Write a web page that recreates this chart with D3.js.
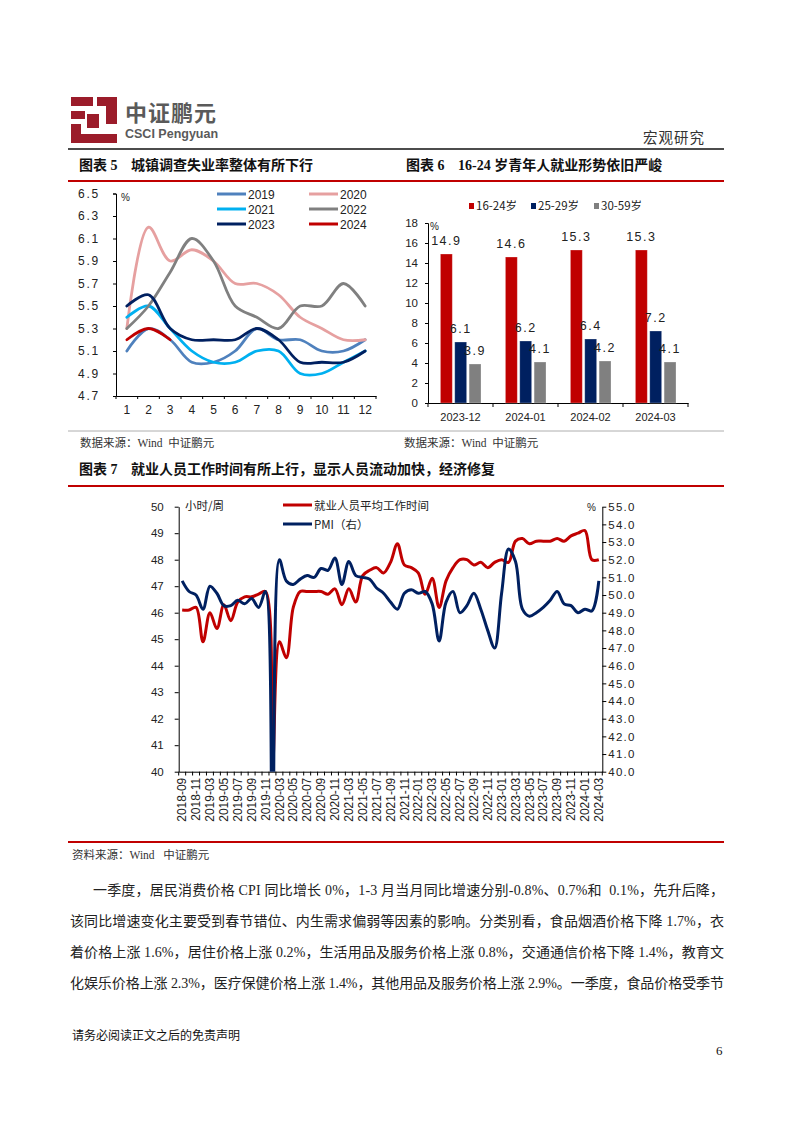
<!DOCTYPE html>
<html><head><meta charset="utf-8">
<script src="https://cdn.jsdelivr.net/npm/d3@7"></script>
<style>body{margin:0;background:#fff} svg{display:block} text{white-space:pre}</style>
</head><body>
<svg id="page" width="794" height="1123"></svg>
<script>
// ---------------- DATA ----------------
// Chart 5: urban surveyed unemployment rate (%), by month
const monthLabels = ["1","2","3","4","5","6","7","8","9","10","11","12"];
const yearNames = ["2019","2020","2021","2022","2023","2024"];
const u2019 = [5.1,5.3,5.2,5.0,5.0,5.1,5.3,5.2,5.2,5.1,5.1,5.2];
const u2020 = [5.3,6.2,5.9,6.0,5.9,5.7,5.7,5.6,5.4,5.3,5.2,5.2];
const u2021 = [5.4,5.5,5.3,5.1,5.0,5.0,5.1,5.1,4.9,4.9,5.0,5.1];
const u2022 = [5.3,5.5,5.8,6.1,5.9,5.5,5.4,5.3,5.5,5.5,5.7,5.5];
const u2023 = [5.5,5.6,5.3,5.2,5.2,5.2,5.3,5.2,5.0,5.0,5.0,5.1];
const u2024 = [5.2,5.3,5.2];
const ticks5 = [4.7,4.9,5.1,5.3,5.5,5.7,5.9,6.1,6.3,6.5];

// Chart 6: youth unemployment by age group (%)
const groups6 = ["2023-12","2024-01","2024-02","2024-03"];
const ageNames = ["16-24岁","25-29岁","30-59岁"];
const age1624 = [14.9,14.6,15.3,15.3];
const age2529 = [6.1,6.2,6.4,7.2];
const age3059 = [3.9,4.1,4.2,4.1];
const ticks6 = [0,2,4,6,8,10,12,14,16,18];

// Chart 7: average weekly working hours (left) and PMI (right)
const dates7 = ["2018-09","2018-10","2018-11","2019-02","2019-03","2019-04","2019-05","2019-06","2019-07","2019-08",
  "2019-09","2019-10","2019-11","2020-02","2020-03","2020-04","2020-05","2020-06","2020-07","2020-08",
  "2020-09","2020-10","2020-11","2021-02","2021-03","2021-04","2021-05","2021-06","2021-07","2021-08",
  "2021-09","2021-10","2021-11","2021-12","2022-01","2022-02","2022-03","2022-04","2022-05","2022-06",
  "2022-07","2022-08","2022-09","2022-10","2022-11","2022-12","2023-01","2023-02","2023-03","2023-04",
  "2023-05","2023-06","2023-07","2023-08","2023-09","2023-10","2023-11","2023-12","2024-01","2024-02","2024-03"];
const workHours = [46.1,46.1,46.2,44.9,46.0,45.4,46.3,45.7,46.4,46.6,
  46.6,46.7,46.8,40.2,44.9,44.3,46.2,46.8,46.8,46.8,
  46.8,46.7,46.9,46.3,46.9,46.4,47.4,47.6,47.7,47.5,
  47.9,48.6,47.8,47.7,47.5,46.7,47.3,46.2,47.2,47.7,
  48.0,48.0,47.8,47.9,47.7,47.9,48.0,47.9,48.7,48.8,
  48.6,48.7,48.7,48.7,48.8,48.7,48.9,49.0,49.1,48.0,48.0];
const pmi = [50.8,50.2,50.0,49.2,50.5,50.1,49.4,49.4,49.7,49.5,
  49.8,49.3,50.2,35.7,52.0,50.8,50.6,50.9,51.1,51.0,
  51.5,51.4,52.1,50.6,51.9,51.1,51.0,50.9,50.4,50.1,
  49.6,49.2,50.1,50.3,50.1,50.2,49.5,47.4,49.6,50.2,
  49.0,49.4,50.1,49.2,48.0,47.0,50.1,52.6,51.9,49.2,
  48.8,49.0,49.3,49.7,50.2,49.5,49.4,49.0,49.2,49.1,50.8];
const ticks7L = [40,41,42,43,44,45,46,47,48,49,50];
const ticks7R = [40,41,42,43,44,45,46,47,48,49,50,51,52,53,54,55];

// ---------------- STYLE ----------------
const SERIF = "'Liberation Serif','Noto Sans CJK SC',serif";
const SANS = "'Liberation Sans','Noto Sans CJK SC',sans-serif";
const CJK = "'Noto Sans CJK SC',sans-serif";
const RED = "#c00000", NAVY = "#002060", GRAY = "#808080";
const colors5 = ["#4f81bd","#e6a0a0","#00b0f0","#808080","#002060","#c00000"];

const svg = d3.select("#page");

// ---------------- HEADER ----------------
const logo = svg.append("g").attr("fill","#9b1c2a");
[[71,97,22,9],[97,97,20,9],[71,111,14,8],[106,104,11,20],[71,124,10,19],[81,134,36,9],[87,114,12,14]]
  .forEach(r=>logo.append("rect").attr("x",r[0]).attr("y",r[1]).attr("width",r[2]).attr("height",r[3]));
svg.append("text").attr("x",125).attr("y",121).attr("font-family",CJK).attr("font-weight","bold")
  .attr("font-size",22).attr("fill","#5a5a5a").attr("letter-spacing",1).text("中证鹏元");
svg.append("text").attr("x",125).attr("y",138).attr("font-family",SANS).attr("font-weight","bold")
  .attr("font-size",12.5).attr("fill","#5a5a5a").text("CSCI Pengyuan");
svg.append("text").attr("x",643).attr("y",143).attr("font-family",CJK).attr("font-size",14.5)
  .attr("fill","#333").attr("letter-spacing",1).text("宏观研究");
svg.append("line").attr("x1",68).attr("x2",724).attr("y1",149).attr("y2",149).attr("stroke","#111").attr("stroke-width",1.3);

function title(x1, x2, y, a, b){
  svg.append("text").attr("x",x1).attr("y",y).attr("font-family",SERIF).attr("font-weight","bold")
    .attr("font-size",14).attr("fill","#111").text(a);
  svg.append("text").attr("x",x2).attr("y",y).attr("font-family",SERIF).attr("font-weight","bold")
    .attr("font-size",14).attr("fill","#111").text(b);
}
title(79,131,170,"图表 5","城镇调查失业率整体有所下行");
title(406,458,170,"图表 6","16-24 岁青年人就业形势依旧严峻");
svg.append("line").attr("x1",68).attr("x2",724).attr("y1",181).attr("y2",181).attr("stroke",RED).attr("stroke-width",2);

// ---------------- CHART 5 ----------------
const x5 = d3.scaleBand().domain(monthLabels).range([116,376]);
const y5 = d3.scaleLinear().domain([4.7,6.5]).range([396,193.5]);
const g5 = svg.append("g");
const ax5y = g5.append("g").attr("transform","translate(116,0)")
  .call(d3.axisLeft(y5).tickValues(ticks5).tickSize(3).tickPadding(13).tickFormat(d3.format(".1f")));
ax5y.select(".domain").attr("stroke","#000");
ax5y.selectAll("text").attr("font-family",SANS).attr("font-size",12).attr("letter-spacing",1.8).attr("fill","#222");
const ax5x = g5.append("g").attr("transform","translate(0,396)")
  .call(d3.axisBottom(x5).tickSize(0).tickPadding(9).tickSizeOuter(0));
ax5x.selectAll("text").attr("font-family",SANS).attr("font-size",12).attr("fill","#222");
g5.selectAll(".btick5").data(monthLabels.concat(["end"])).enter().append("line")
  .attr("x1",(d,i)=> i<12 ? x5(d) : x5.range()[1]).attr("x2",(d,i)=> i<12 ? x5(d) : x5.range()[1])
  .attr("y1",396).attr("y2",399).attr("stroke","#000");
g5.append("text").attr("x",121).attr("y",201).attr("font-family",SANS).attr("font-size",10).attr("fill","#222").text("%");
const line5 = d3.line().x((d,i)=>x5(monthLabels[i])+x5.bandwidth()/2).y(d=>y5(d)).curve(d3.curveCatmullRom.alpha(0.5));
[u2019,u2020,u2021,u2022,u2023,u2024].forEach((s,k)=>{
  g5.append("path").attr("d",line5(s)).attr("fill","none").attr("stroke",colors5[k]).attr("stroke-width",2.8).attr("stroke-linecap","round");
});
yearNames.forEach((n,k)=>{
  const lx = k%2===0 ? 217 : 309, ly = 194 + Math.floor(k/2)*15;
  g5.append("line").attr("x1",lx).attr("x2",lx+29).attr("y1",ly).attr("y2",ly).attr("stroke",colors5[k]).attr("stroke-width",3);
  g5.append("text").attr("x",lx+31).attr("y",ly+4.5).attr("font-family",SANS).attr("font-size",12).attr("fill","#222").text(n);
});

// ---------------- CHART 6 ----------------
const x6 = d3.scaleBand().domain(groups6).range([428,688]);
const xs6 = d3.scaleBand().domain(ageNames).range([12.4,53]).paddingInner(0.17);
const y6 = d3.scaleLinear().domain([0,18]).range([403,223]);
const colors6 = [RED, NAVY, GRAY];
const g6 = svg.append("g");
const ax6y = g6.append("g").attr("transform","translate(428,0)")
  .call(d3.axisLeft(y6).tickValues(ticks6).tickSize(3).tickPadding(7));
ax6y.selectAll("text").attr("font-family",SANS).attr("font-size",11.5).attr("fill","#222");
const ax6x = g6.append("g").attr("transform","translate(0,403)")
  .call(d3.axisBottom(x6).tickSize(0).tickPadding(10).tickSizeOuter(0));
ax6x.selectAll("text").attr("font-family",SANS).attr("font-size",11).attr("fill","#222");
g6.selectAll(".btick6").data(groups6.concat(["end"])).enter().append("line")
  .attr("x1",(d,i)=> i<4 ? x6(d) : x6.range()[1]).attr("x2",(d,i)=> i<4 ? x6(d) : x6.range()[1])
  .attr("y1",403).attr("y2",407).attr("stroke","#000");
g6.append("text").attr("x",430).attr("y",230).attr("font-family",SANS).attr("font-size",10).attr("fill","#222").text("%");
[age1624, age2529, age3059].forEach((s,k)=>{
  groups6.forEach((gname,i)=>{
    const bx = x6(gname) + xs6(ageNames[k]);
    g6.append("rect").attr("x",bx).attr("y",y6(s[i])).attr("width",xs6.bandwidth())
      .attr("height",y6(0)-y6(s[i])).attr("fill",colors6[k]).attr("stroke","#fff").attr("stroke-opacity",0.35).attr("stroke-width",0.8);
    g6.append("text").attr("x",bx+xs6.bandwidth()/2).attr("y",y6(s[i])-9).attr("text-anchor","middle")
      .attr("font-family",SANS).attr("font-size",12.5).attr("letter-spacing",1.5).attr("fill","#222")
      .text(d3.format(".1f")(s[i]));
  });
});
const legX6 = [469, 531, 594];
ageNames.forEach((n,k)=>{
  g6.append("rect").attr("x",legX6[k]).attr("y",203).attr("width",5).attr("height",6).attr("fill",colors6[k]);
  g6.append("text").attr("x",legX6[k]+7).attr("y",210).attr("font-family",CJK).attr("font-size",11.5).attr("fill","#222").text(n);
});

// sources 5/6
svg.append("line").attr("x1",68).attr("x2",724).attr("y1",431).attr("y2",431).attr("stroke","#999").attr("stroke-width",0.8);
svg.append("text").attr("x",80).attr("y",447).attr("font-family",SERIF).attr("font-size",11.5).attr("fill","#333").text("数据来源：Wind  中证鹏元");
svg.append("text").attr("x",404).attr("y",447).attr("font-family",SERIF).attr("font-size",11.5).attr("fill","#333").text("数据来源：Wind  中证鹏元");

// ---------------- CHART 7 ----------------
title(79,131,474,"图表 7","就业人员工作时间有所上行，显示人员流动加快，经济修复");
svg.append("line").attr("x1",68).attr("x2",724).attr("y1",486).attr("y2",486).attr("stroke",RED).attr("stroke-width",2);

const x7 = d3.scaleBand().domain(dates7).range([178.7,602.3]);
const yL = d3.scaleLinear().domain([40,50]).range([771.7,506.7]);
const yR = d3.scaleLinear().domain([40,55]).range([771.7,506.7]);
const g7 = svg.append("g");
const ax7l = g7.append("g").attr("transform","translate(178.7,0)")
  .call(d3.axisLeft(yL).tickValues(ticks7L).tickSize(4).tickPadding(11).tickSizeOuter(0));
ax7l.selectAll("text").attr("font-family",SANS).attr("font-size",11.5).attr("fill","#222");
const ax7r = g7.append("g").attr("transform","translate(602.3,0)")
  .call(d3.axisRight(yR).tickValues(ticks7R).tickSize(4).tickPadding(2).tickSizeOuter(0).tickFormat(d3.format(".1f")));
ax7r.selectAll("text").attr("font-family",SANS).attr("font-size",11.5).attr("letter-spacing",1.2).attr("fill","#222");
const ax7x = g7.append("g").attr("transform","translate(0,771.7)")
  .call(d3.axisBottom(x7).tickSize(0).tickSizeOuter(0).tickValues(dates7.filter((d,i)=>i%2===0)));
ax7x.selectAll("text").attr("font-family",SANS).attr("font-size",12).attr("fill","#222")
  .attr("text-anchor","end").attr("dy","0.35em").attr("transform","translate(0,6) rotate(-90)").attr("y",0).attr("x",0);
g7.selectAll(".btick7").data(dates7.concat(["end"])).enter().append("line")
  .attr("x1",(d,i)=> i<dates7.length ? x7(d) : x7.range()[1]).attr("x2",(d,i)=> i<dates7.length ? x7(d) : x7.range()[1])
  .attr("y1",771.7).attr("y2",775.5).attr("stroke","#000");
svg.append("defs").append("clipPath").attr("id","clip7").append("rect")
  .attr("x",178.7).attr("y",500).attr("width",423.6).attr("height",271.7);
const cx7 = (d,i)=>x7(dates7[i])+x7.bandwidth()/2;
const lineL = d3.line().x(cx7).y(d=>yL(d)).curve(d3.curveCatmullRom.alpha(0.5));
const lineR = d3.line().x(cx7).y(d=>yR(d)).curve(d3.curveCatmullRom.alpha(0.5));
g7.append("path").attr("d",lineL(workHours)).attr("clip-path","url(#clip7)").attr("fill","none").attr("stroke",RED).attr("stroke-width",3);
g7.append("path").attr("d",lineR(pmi)).attr("clip-path","url(#clip7)").attr("fill","none").attr("stroke",NAVY).attr("stroke-width",3);
g7.append("text").attr("x",185).attr("y",510).attr("font-family",CJK).attr("font-size",11.5).attr("fill","#222").text("小时/周");
g7.append("text").attr("x",587).attr("y",511).attr("font-family",SANS).attr("font-size",10).attr("fill","#222").text("%");
[["就业人员平均工作时间",RED,505],["PMI（右）",NAVY,524]].forEach(l=>{
  g7.append("line").attr("x1",283).attr("x2",312).attr("y1",l[2]).attr("y2",l[2]).attr("stroke",l[1]).attr("stroke-width",3);
  g7.append("text").attr("x",314).attr("y",l[2]+4.5).attr("font-family",CJK).attr("font-size",11.5).attr("fill","#222").text(l[0]);
});

svg.append("line").attr("x1",68).attr("x2",724).attr("y1",842).attr("y2",842).attr("stroke",RED).attr("stroke-width",2);
svg.append("text").attr("x",72).attr("y",859).attr("font-family",SERIF).attr("font-size",11.5).attr("fill","#333").text("资料来源：Wind   中证鹏元");

// ---------------- BODY TEXT ----------------
const para = [
  [93,"一季度，居民消费价格 CPI 同比增长 0%，1-3 月当月同比增速分别-0.8%、0.7%和  0.1%，先升后降，"],
  [70,"该同比增速变化主要受到春节错位、内生需求偏弱等因素的影响。分类别看，食品烟酒价格下降 1.7%，衣"],
  [70,"着价格上涨 1.6%，居住价格上涨 0.2%，生活用品及服务价格上涨 0.8%，交通通信价格下降 1.4%，教育文"],
  [70,"化娱乐价格上涨 2.3%，医疗保健价格上涨 1.4%，其他用品及服务价格上涨 2.9%。一季度，食品价格受季节"]
];
para.forEach((p,i)=>{
  svg.append("text").attr("x",p[0]).attr("y",895+i*31).attr("font-family",SERIF).attr("font-size",14)
    .attr("fill","#222").attr("textLength",724-p[0]).attr("lengthAdjust","spacing").text(p[1]);
});
svg.append("text").attr("x",72).attr("y",1040).attr("font-family",CJK).attr("font-size",12).attr("fill","#111").text("请务必阅读正文之后的免责声明");
svg.append("text").attr("x",716).attr("y",1055).attr("font-family",SERIF).attr("font-size",13).attr("fill","#111").text("6");
</script>
</body></html>
